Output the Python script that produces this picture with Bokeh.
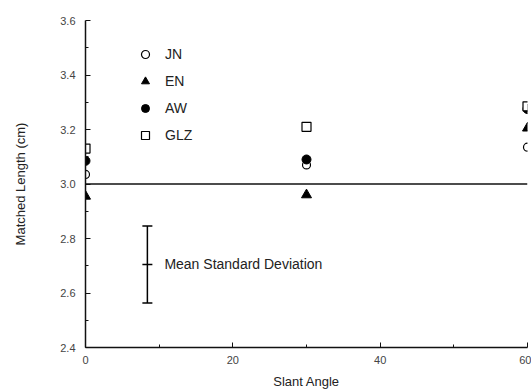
from bokeh.plotting import figure
from bokeh.models import Span, Legend, LegendItem, Range1d, FixedTicker, ColumnDataSource, Label, PrintfTickFormatter
from bokeh.embed import file_html
from bokeh.resources import INLINE

# Data
angles = [0, 30, 60]
jn = [3.035, 3.07, 3.135]
en = [2.955, 2.96, 3.205]
aw = [3.085, 3.09, 3.275]
glz = [3.13, 3.21, 3.285]

sd_x = [8.4]
sd_mean = [2.705]
sd_low = [2.563]
sd_high = [2.846]
sd_label = ["Mean Standard Deviation"]

reference_level = 3.0
x_ticks = [0, 20, 40, 60]
y_ticks = [2.4, 2.6, 2.8, 3.0, 3.2, 3.4, 3.6]

FONT = "Liberation Sans"

p = figure(width=531, height=392, output_backend="svg", toolbar_location=None,
           x_range=Range1d(0, 60), y_range=Range1d(2.4, 3.6),
           min_border_left=85, min_border_right=4, min_border_top=20, min_border_bottom=45)
p.outline_line_color = None
p.xgrid.visible = False
p.ygrid.visible = False

for ax in (p.xaxis[0], p.yaxis[0]):
    ax.major_tick_in = 5
    ax.major_tick_out = 0
    ax.minor_tick_in = 3
    ax.minor_tick_out = 0
    ax.axis_line_width = 1.5
    ax.axis_line_color = "#111111"
    ax.major_tick_line_color = "#111111"
    ax.minor_tick_line_color = "#111111"
    ax.major_label_text_font = FONT
    ax.major_label_text_font_size = "11px"
    ax.major_label_text_color = "#444444"
    ax.axis_label_text_font = FONT
    ax.axis_label_text_font_size = "13px"
    ax.axis_label_text_font_style = "normal"
    ax.axis_label_text_color = "#222222"

p.xaxis.ticker = FixedTicker(ticks=x_ticks, minor_ticks=[10, 30, 50])
p.yaxis.ticker = FixedTicker(ticks=y_ticks, minor_ticks=[2.5, 2.7, 2.9, 3.1, 3.3, 3.5])
p.yaxis.formatter = PrintfTickFormatter(format="%.1f")
p.xaxis.axis_label = "Slant Angle"
p.yaxis.axis_label = "Matched Length (cm)"
p.xaxis.major_label_standoff = 8
p.yaxis.major_label_standoff = 10
p.xaxis.axis_label_standoff = 7
p.yaxis.axis_label_standoff = 29

p.add_layout(Span(location=reference_level, dimension="width", line_color="#111111", line_width=1.5))

src = ColumnDataSource(dict(x=angles, jn=jn, en=en, aw=aw, glz=glz))
r_jn = p.scatter("x", "jn", source=src, marker="circle", size=8, fill_color="white", line_color="black", line_width=1.2)
r_en = p.scatter("x", "en", source=src, marker="triangle", size=10, fill_color="black", line_color="black")
r_aw = p.scatter("x", "aw", source=src, marker="circle", size=9, fill_color="black", line_color="black")
r_glz = p.scatter("x", "glz", source=src, marker="square", size=9, fill_color="white", line_color="black", line_width=1.2)

# error bar
sd = ColumnDataSource(dict(x=sd_x, m=sd_mean, lo=sd_low, hi=sd_high, t=sd_label))
p.segment(x0="x", y0="lo", x1="x", y1="hi", source=sd, line_color="black", line_width=1.5)
for col in ("lo", "hi", "m"):
    p.scatter("x", col, source=sd, marker="dash", size=10, line_color="black", line_width=1.5)
p.add_layout(Label(x=sd_x[0], y=sd_mean[0], text=sd_label[0], x_offset=17, y_offset=0,
                   text_font=FONT, text_font_size="14px", text_baseline="middle", text_color="#222222"))

legend = Legend(items=[LegendItem(label="JN", renderers=[r_jn]),
                       LegendItem(label="EN", renderers=[r_en]),
                       LegendItem(label="AW", renderers=[r_aw]),
                       LegendItem(label="GLZ", renderers=[r_glz])],
                location=(50, 202), orientation="vertical",
                glyph_height=20, glyph_width=20, label_height=20, spacing=7,
                padding=0, margin=0, label_standoff=10,
                border_line_color=None, background_fill_alpha=0,
                label_text_font=FONT, label_text_font_size="14px", label_text_color="#222222")
p.add_layout(legend, "center")

open("out.html", "w").write(file_html(p, INLINE))
